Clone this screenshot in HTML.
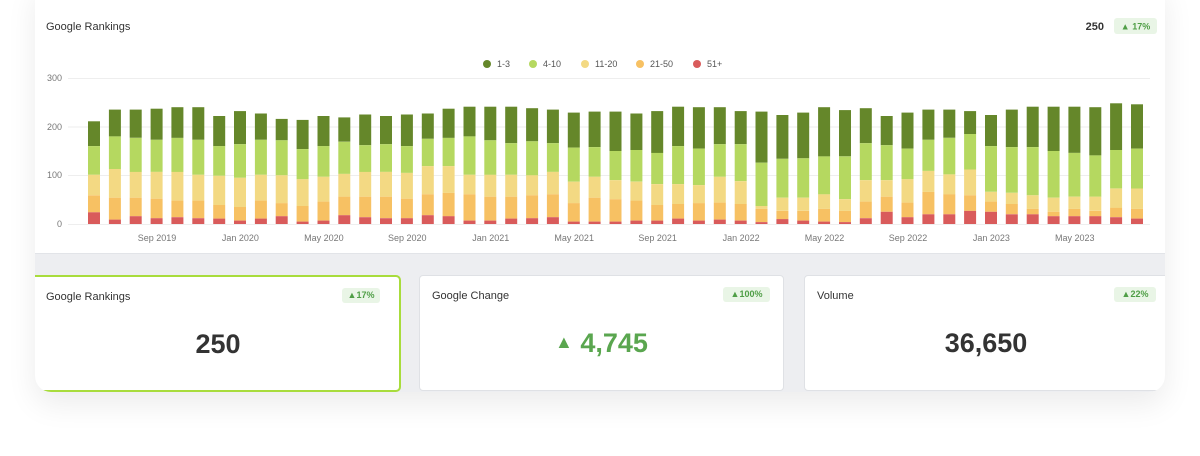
<!DOCTYPE html>
<html><head><meta charset="utf-8"><style>
body{margin:0;width:1200px;height:456px;background:#fff;font-family:"Liberation Sans",sans-serif;overflow:hidden;position:relative}
#outer{position:absolute;left:35px;top:-20px;width:1130px;height:412px;background:#fff;border-radius:16px;overflow:hidden;box-shadow:0 12px 30px rgba(0,0,0,0.08)}
#band{position:absolute;left:0;top:273px;width:1130px;height:140px;background:#edeef1;border-top:1px solid #e2e4e8}
.card{position:absolute;top:295px;height:114px;background:#fff;border:1px solid #dfe1e5;border-radius:4px}
.lbl{position:absolute;left:12px;top:14px;font-size:11px;color:#333}
.bdg{position:absolute;top:11px;height:15px;line-height:15px;background:#e9f5e6;color:#4f9e46;font-size:9px;font-weight:bold;border-radius:3px;text-align:center}
.big{position:absolute;left:0;right:0;top:52px;text-align:center;font-size:27px;font-weight:bold;color:#333}
svg{position:absolute;left:0;top:0}
</style></head><body>
<div id="outer">
<div id="band"></div>
<div class="card" style="left:-6px;width:368px;border:2px solid #a8dc3c;border-radius:5px;height:113px"><div class="lbl" style="left:15px">Google Rankings</div><div class="bdg" style="left:311px;width:38px">▲17%</div><div class="big" style="left:6px">250</div></div>
<div class="card" style="left:384px;width:363px"><div class="lbl">Google Change</div><div class="bdg" style="left:303px;width:47px">▲100%</div><div class="big" style="color:#5aa64f"><span style="font-size:18px;vertical-align:4px">▲</span> 4,745</div></div>
<div class="card" style="left:769px;width:380px"><div class="lbl">Volume</div><div class="bdg" style="left:309px;width:42px">▲22%</div><div class="big" style="right:18px">36,650</div></div>
</div>
<svg id="c" width="1200" height="260" font-family="Liberation Sans, sans-serif">
<text x="46" y="30" font-size="11" fill="#333">Google Rankings</text>
<text x="1104" y="30" font-size="11" font-weight="bold" fill="#333" text-anchor="end">250</text>
<rect x="1114" y="18" width="43" height="16" rx="3" fill="#e9f5e6"/>
<text x="1135.5" y="29.5" font-size="9" font-weight="bold" fill="#4f9e46" text-anchor="middle">▲ 17%</text>
<g font-size="9" fill="#555">
<circle cx="487" cy="64" r="4" fill="#65872a"/><text x="497" y="67">1-3</text>
<circle cx="533" cy="64" r="4" fill="#b5d860"/><text x="543" y="67">4-10</text>
<circle cx="585" cy="64" r="4" fill="#f3d983"/><text x="595" y="67">11-20</text>
<circle cx="640" cy="64" r="4" fill="#f7c163"/><text x="650" y="67">21-50</text>
<circle cx="697" cy="64" r="4" fill="#d95b5b"/><text x="707" y="67">51+</text>
</g>
<g font-size="9" fill="#777" text-anchor="end">
<text x="62" y="81">300</text><text x="62" y="130">200</text><text x="62" y="178">100</text><text x="62" y="227">0</text>
</g>
<g stroke="#eeeeee" stroke-width="1">
<line x1="68" x2="1150" y1="78.5" y2="78.5"/><line x1="68" x2="1150" y1="127" y2="127"/><line x1="68" x2="1150" y1="175.5" y2="175.5"/><line x1="68" x2="1150" y1="224.5" y2="224.5"/>
</g>
<g id="bars"></g>
<g font-size="9" fill="#777" text-anchor="middle" id="xl"></g>
</svg>
<script>
var d=[[211,160,101,59,24],[235,180,113,54,9],[235,177,107,54,16],[237,173,107,52,12],[240,177,107,48,14],[240,173,101,48,12],[222,160,99,39,11],[232,164,95,35,7],[227,173,101,48,11],[216,172,100,43,16],[214,154,92,37,5],[222,160,97,46,7],[219,169,103,56,18],[225,162,107,56,14],[222,164,107,56,12],[225,160,105,52,12],[227,175,119,61,18],[237,177,119,64,16],[241,180,101,61,7],[241,172,101,56,7],[241,166,101,56,11],[238,170,100,59,12],[235,166,107,61,14],[229,157,87,43,5],[231,158,97,54,5],[231,150,90,51,5],[227,152,87,48,7],[232,146,82,39,7],[241,160,82,41,11],[240,155,80,43,7],[240,164,97,44,9],[232,164,88,41,7],[231,126,37,31,4],[224,134,54,27,10],[229,135,54,27,7],[240,139,61,31,5],[234,139,51,27,4],[238,166,90,46,12],[222,162,90,56,25],[229,155,92,44,14],[235,173,109,66,20],[235,177,102,61,20],[232,185,112,59,27],[224,160,66,46,25],[235,158,64,41,20],[241,158,59,31,20],[241,150,54,25,16],[241,146,56,31,16],[240,141,56,27,16],[248,152,73,33,14],[246,155,73,31,11]];
var col=["#65872a","#b5d860","#f3d983","#f7c163","#d95b5b"],s="",k=146/300;
function Y(v){return 224-v*k}
d.forEach(function(b,i){var x=88+i*20.86;for(var j=0;j<5;j++){var top=Y(b[j]),bot=j<4?Y(b[j+1]):224;s+='<rect x="'+x.toFixed(1)+'" y="'+top.toFixed(1)+'" width="12" height="'+(bot-top).toFixed(1)+'" fill="'+col[j]+'"/>';}});
document.getElementById('bars').innerHTML=s;
var L=["Sep 2019","Jan 2020","May 2020","Sep 2020","Jan 2021","May 2021","Sep 2021","Jan 2022","May 2022","Sep 2022","Jan 2023","May 2023"],t="";
L.forEach(function(l,i){t+='<text x="'+(157+i*83.44).toFixed(1)+'" y="241">'+l+'</text>';});
document.getElementById('xl').innerHTML=t;
</script>
</body></html>
